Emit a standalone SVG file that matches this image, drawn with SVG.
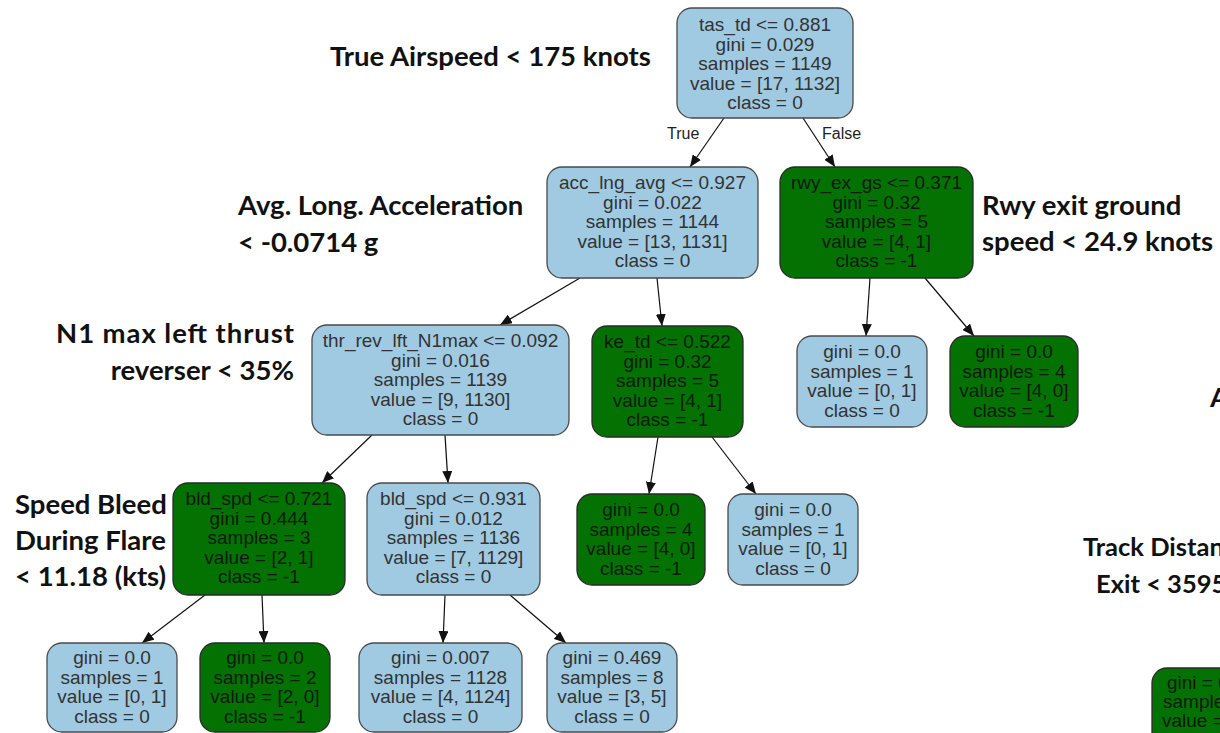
<svg xmlns="http://www.w3.org/2000/svg" width="1220" height="733" viewBox="0 0 1220 733">
<style>
.bl{fill:#9fcae1;stroke:#4a4a4a;stroke-width:1.3}
.gr{fill:#037203;stroke:#2a2a2a;stroke-width:1.3}
.t{font-family:"Liberation Sans",Arial,sans-serif;font-size:19px;text-anchor:middle;fill:#333}
.tg{font-family:"Liberation Sans",Arial,sans-serif;font-size:19px;text-anchor:middle;fill:#0d1a0d}
.tl{font-family:"Liberation Sans",Arial,sans-serif;font-size:19px;fill:#0d1a0d}
.e{stroke:#111;stroke-width:1.2;fill:none;marker-end:url(#ah)}
.el{font-family:"Liberation Sans",Arial,sans-serif;font-size:16px;fill:#222}
.a{font-family:Lato,"Open Sans",sans-serif;font-weight:bold;font-size:27.5px;fill:#111}
.as{font-family:Lato,"Open Sans",sans-serif;font-weight:bold;font-size:25.5px;fill:#111}
</style>
<defs>
<marker id="ah" markerUnits="userSpaceOnUse" markerWidth="12" markerHeight="10" refX="12" refY="5" orient="auto">
<path d="M0,0 L12,5 L0,10 z" fill="#111"/>
</marker>
</defs>
<rect width="1220" height="733" fill="#fff"/>

<g id="annotations">
<text class="a" x="330" y="66">True Airspeed &lt; 175 knots</text>
<text class="a" x="238" y="215">Avg. Long. Acceleration</text>
<text class="a" x="238" y="252">&lt; -0.0714 g</text>
<text class="a" x="294" y="343" text-anchor="end" textLength="238" lengthAdjust="spacing">N1 max left thrust</text>
<text class="a" x="294" y="380" text-anchor="end">reverser &lt; 35%</text>
<text class="a" x="982" y="215">Rwy exit ground</text>
<text class="a" x="982" y="251">speed &lt; 24.9 knots</text>
<text class="a" x="15" y="514">Speed Bleed</text>
<text class="a" x="15" y="550">During Flare</text>
<text class="a" x="15" y="586">&lt; 11.18 (kts)</text>
<text class="a" x="1210" y="407">A</text>
<text class="as" x="1083" y="556">Track Distance</text>
<text class="as" x="1096" y="593">Exit &lt; 3595</text>
</g>

<g id="connectors">
<line class="e" x1="724" y1="118" x2="690" y2="167"/>
<line class="e" x1="803" y1="118" x2="835" y2="167"/>
<line class="e" x1="580" y1="278" x2="500" y2="325"/>
<line class="e" x1="657" y1="278" x2="662" y2="326"/>
<line class="e" x1="870" y1="278" x2="866" y2="336"/>
<line class="e" x1="925" y1="278" x2="974" y2="336"/>
<line class="e" x1="372" y1="435" x2="322" y2="483"/>
<line class="e" x1="445" y1="435" x2="448" y2="483"/>
<line class="e" x1="658" y1="437" x2="649" y2="494"/>
<line class="e" x1="712" y1="437" x2="756" y2="494"/>
<line class="e" x1="205" y1="595" x2="142" y2="643"/>
<line class="e" x1="262" y1="595" x2="264" y2="643"/>
<line class="e" x1="445" y1="595" x2="443" y2="643"/>
<line class="e" x1="510" y1="595" x2="566" y2="643"/>
<text class="el" x="667" y="139">True</text>
<text class="el" x="822" y="139">False</text>
</g>

<g id="n_root">
<rect class="bl" x="677" y="8" width="176" height="110" rx="15"/>
<text class="t" x="765" y="31">tas_td &lt;= 0.881</text>
<text class="t" x="765" y="50.5">gini = 0.029</text>
<text class="t" x="765" y="70">samples = 1149</text>
<text class="t" x="765" y="89.5">value = [17, 1132]</text>
<text class="t" x="765" y="109">class = 0</text>
</g>

<g id="n_acc">
<rect class="bl" x="547" y="167" width="211" height="111" rx="15"/>
<text class="t" x="652.5" y="189">acc_lng_avg &lt;= 0.927</text>
<text class="t" x="652.5" y="208.5">gini = 0.022</text>
<text class="t" x="652.5" y="228">samples = 1144</text>
<text class="t" x="652.5" y="247.5">value = [13, 1131]</text>
<text class="t" x="652.5" y="267">class = 0</text>
</g>

<g id="n_rwy">
<rect class="gr" x="780" y="167" width="193" height="111" rx="15"/>
<text class="tg" x="876.5" y="189">rwy_ex_gs &lt;= 0.371</text>
<text class="tg" x="876.5" y="208.5">gini = 0.32</text>
<text class="tg" x="876.5" y="228">samples = 5</text>
<text class="tg" x="876.5" y="247.5">value = [4, 1]</text>
<text class="tg" x="876.5" y="267">class = -1</text>
</g>

<g id="n_thr">
<rect class="bl" x="312" y="325" width="257" height="110" rx="15"/>
<text class="t" x="440.5" y="347">thr_rev_lft_N1max &lt;= 0.092</text>
<text class="t" x="440.5" y="366.5">gini = 0.016</text>
<text class="t" x="440.5" y="386">samples = 1139</text>
<text class="t" x="440.5" y="405.5">value = [9, 1130]</text>
<text class="t" x="440.5" y="425">class = 0</text>
</g>

<g id="n_ke">
<rect class="gr" x="592" y="326" width="151" height="111" rx="15"/>
<text class="tg" x="667.5" y="348">ke_td &lt;= 0.522</text>
<text class="tg" x="667.5" y="367.5">gini = 0.32</text>
<text class="tg" x="667.5" y="387">samples = 5</text>
<text class="tg" x="667.5" y="406.5">value = [4, 1]</text>
<text class="tg" x="667.5" y="426">class = -1</text>
</g>

<g id="n_rwy_l">
<rect class="bl" x="797" y="336" width="130" height="91" rx="15"/>
<text class="t" x="862" y="358">gini = 0.0</text>
<text class="t" x="862" y="377.5">samples = 1</text>
<text class="t" x="862" y="397">value = [0, 1]</text>
<text class="t" x="862" y="416.5">class = 0</text>
</g>

<g id="n_rwy_r">
<rect class="gr" x="950" y="336" width="128" height="91" rx="15"/>
<text class="tg" x="1014" y="358">gini = 0.0</text>
<text class="tg" x="1014" y="377.5">samples = 4</text>
<text class="tg" x="1014" y="397">value = [4, 0]</text>
<text class="tg" x="1014" y="416.5">class = -1</text>
</g>

<g id="n_bld_a">
<rect class="gr" x="173" y="483" width="172" height="112" rx="15"/>
<text class="tg" x="259" y="505">bld_spd &lt;= 0.721</text>
<text class="tg" x="259" y="524.5">gini = 0.444</text>
<text class="tg" x="259" y="544">samples = 3</text>
<text class="tg" x="259" y="563.5">value = [2, 1]</text>
<text class="tg" x="259" y="583">class = -1</text>
</g>

<g id="n_bld_b">
<rect class="bl" x="367" y="483" width="173" height="112" rx="15"/>
<text class="t" x="453.5" y="505">bld_spd &lt;= 0.931</text>
<text class="t" x="453.5" y="524.5">gini = 0.012</text>
<text class="t" x="453.5" y="544">samples = 1136</text>
<text class="t" x="453.5" y="563.5">value = [7, 1129]</text>
<text class="t" x="453.5" y="583">class = 0</text>
</g>

<g id="n_ke_l">
<rect class="gr" x="577" y="494" width="128" height="91" rx="15"/>
<text class="tg" x="641" y="516">gini = 0.0</text>
<text class="tg" x="641" y="535.5">samples = 4</text>
<text class="tg" x="641" y="555">value = [4, 0]</text>
<text class="tg" x="641" y="574.5">class = -1</text>
</g>

<g id="n_ke_r">
<rect class="bl" x="728" y="494" width="130" height="91" rx="15"/>
<text class="t" x="793" y="516">gini = 0.0</text>
<text class="t" x="793" y="535.5">samples = 1</text>
<text class="t" x="793" y="555">value = [0, 1]</text>
<text class="t" x="793" y="574.5">class = 0</text>
</g>

<g id="n_b1">
<rect class="bl" x="47" y="643" width="130" height="89" rx="15"/>
<text class="t" x="112" y="664">gini = 0.0</text>
<text class="t" x="112" y="683.5">samples = 1</text>
<text class="t" x="112" y="703">value = [0, 1]</text>
<text class="t" x="112" y="722.5">class = 0</text>
</g>

<g id="n_b2">
<rect class="gr" x="200" y="643" width="130" height="89" rx="15"/>
<text class="tg" x="265" y="664">gini = 0.0</text>
<text class="tg" x="265" y="683.5">samples = 2</text>
<text class="tg" x="265" y="703">value = [2, 0]</text>
<text class="tg" x="265" y="722.5">class = -1</text>
</g>

<g id="n_b3">
<rect class="bl" x="359" y="643" width="163" height="89" rx="15"/>
<text class="t" x="440.5" y="664">gini = 0.007</text>
<text class="t" x="440.5" y="683.5">samples = 1128</text>
<text class="t" x="440.5" y="703">value = [4, 1124]</text>
<text class="t" x="440.5" y="722.5">class = 0</text>
</g>

<g id="n_b4">
<rect class="bl" x="547" y="643" width="130" height="89" rx="15"/>
<text class="t" x="612" y="664">gini = 0.469</text>
<text class="t" x="612" y="683.5">samples = 8</text>
<text class="t" x="612" y="703">value = [3, 5]</text>
<text class="t" x="612" y="722.5">class = 0</text>
</g>

<g id="n_partial">
<rect class="gr" x="1152" y="668" width="120" height="100" rx="15"/>
<text class="tl" x="1167" y="689">gini = 0.0</text>
<text class="tl" x="1163" y="708">samples</text>
<text class="tl" x="1162" y="727">value =</text>
</g>
</svg>
